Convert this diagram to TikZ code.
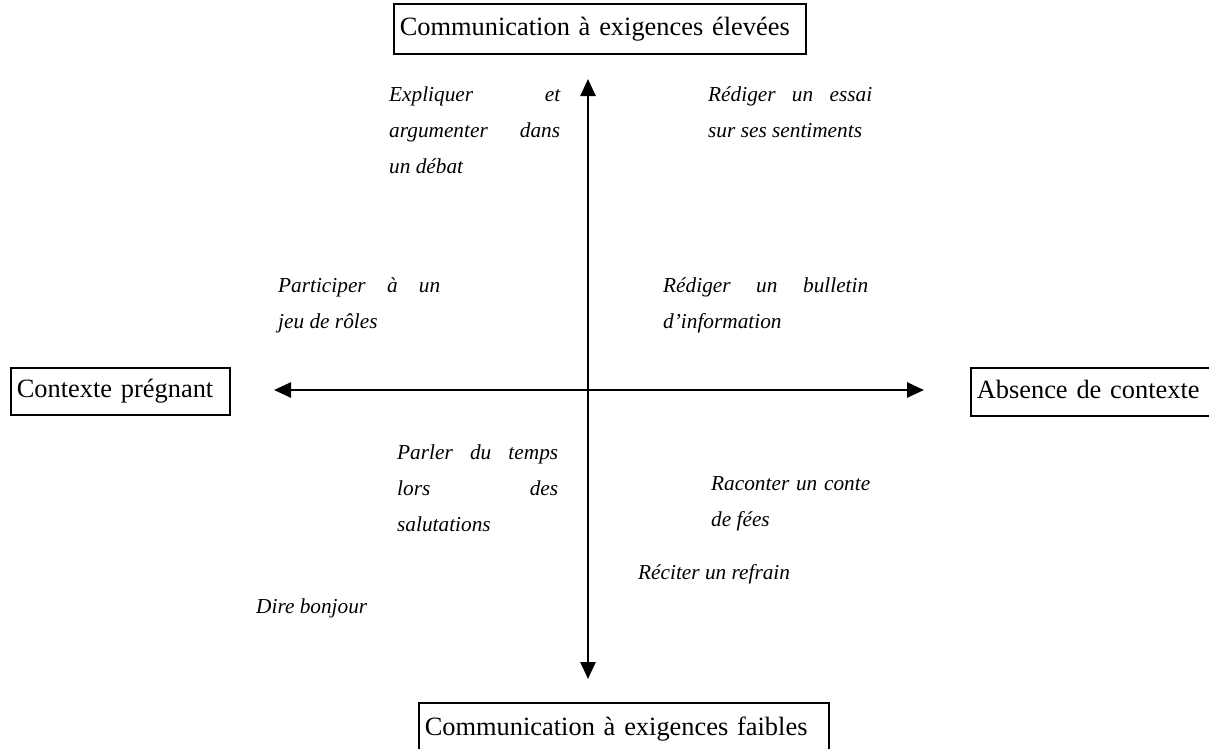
\documentclass[tikz,border=0pt]{standalone}
\usepackage{fontspec}
\setmainfont{Liberation Serif}
\usetikzlibrary{arrows.meta}
\newcommand{\blockpar}[2]{\parbox[t]{#1pt}{#2}}
\begin{document}
\begin{tikzpicture}[x=1pt,y=-1pt,
  box/.style={draw, line width=1.6pt, inner xsep=6pt, inner ysep=0pt, anchor=north west,
    font=\fontsize{26.4}{30}\selectfont, align=left, text height=19pt, text depth=6pt},
  item/.style={anchor=base west, inner sep=0pt, font=\fontsize{21.3}{36}\selectfont\itshape},
  axis/.style={line width=2.6pt, {Triangle[length=17pt,width=15pt]}-{Triangle[length=17pt,width=15pt]}}]
\useasboundingbox (0,0) rectangle (1209,748);
% boxes
\node[box, text width=400pt, minimum height=50pt] (top) at (393,3) {Communication à exigences élevées};
\node[box, text width=207pt, minimum height=47pt] (left) at (10,367) {Contexte prégnant};
\node[box, text width=238pt, minimum height=48pt] (right) at (970,367) {Absence de contexte};
\node[box, text width=398pt, minimum height=52pt] (bottom) at (418,702) {Communication à exigences faibles};
% axes
\coordinate (N) at (588,79);
\coordinate (S) at (588,679);
\coordinate (W) at (274,390);
\coordinate (E) at (924,390);
\draw[axis] (N) -- (S);
\draw[axis] (W) -- (E);
% items
\node[item] (e1) at (389,101) {\blockpar{171}{Expliquer et\linebreak argumenter dans\linebreak un débat}};
\node[item] (e2) at (708,101) {\blockpar{164}{Rédiger un essai\linebreak sur ses sentiments}};
\node[item] (e3) at (278,292) {\blockpar{162}{Participer à un\linebreak jeu de rôles}};
\node[item] (e4) at (663,292) {\blockpar{205}{Rédiger un bulletin\linebreak d’information}};
\node[item] (e5) at (397,459) {\blockpar{161}{Parler du temps\linebreak lors des\linebreak salutations}};
\node[item] (e6) at (711,490) {\blockpar{159}{Raconter un conte\linebreak de fées}};
\node[item] (e7) at (638,579) {Réciter un refrain};
\node[item] (e8) at (256,613) {Dire bonjour};
\end{tikzpicture}
\end{document}
